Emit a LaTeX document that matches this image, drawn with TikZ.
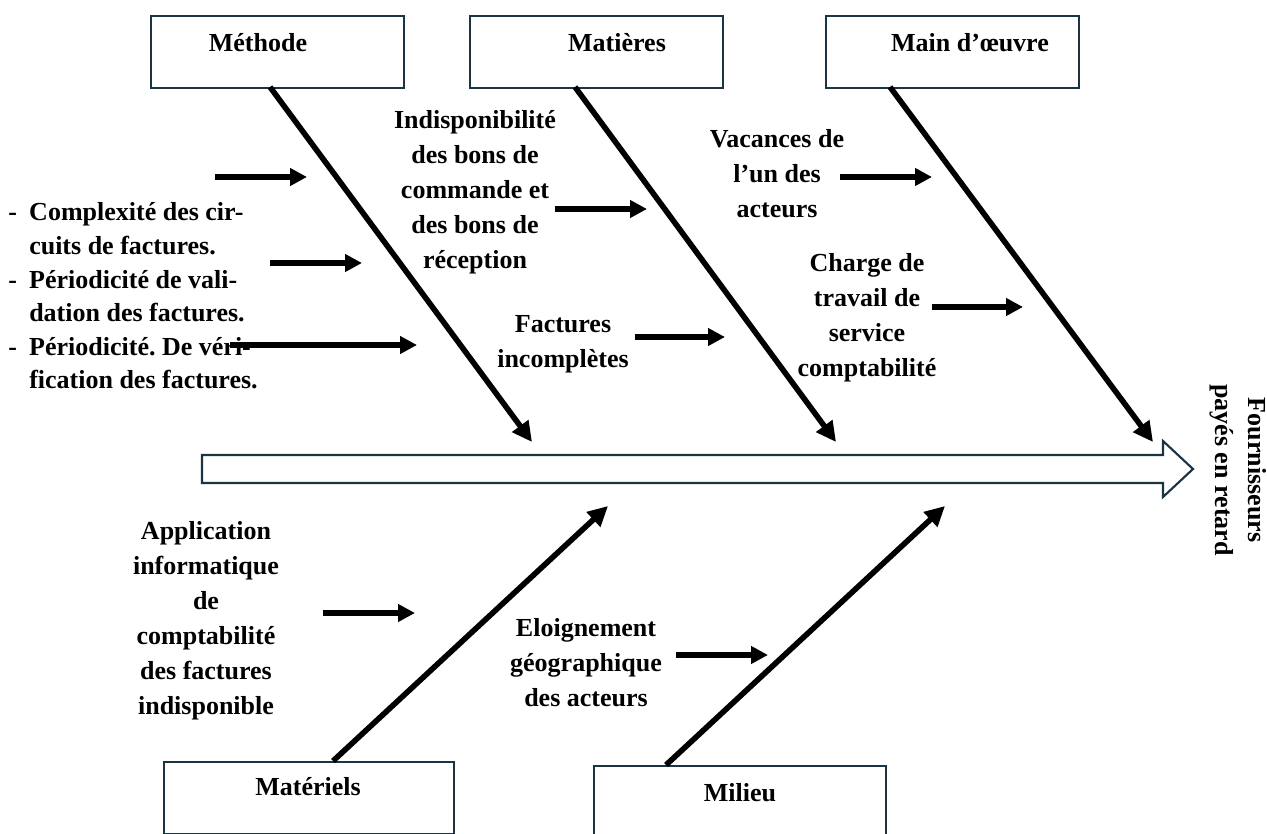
\documentclass[tikz,border=0pt]{standalone}
\usepackage{fontspec}
\setmainfont{Liberation Serif}
\usetikzlibrary{arrows.meta}
\definecolor{frame}{HTML}{1B3443}
\frenchspacing
\begin{document}
\begin{tikzpicture}[x=0.75pt,y=-0.75pt,
  every node/.style={font=\bfseries\fontsize{19.5}{26.25}\selectfont, inner sep=0pt},
  catbox/.style={draw=frame, line width=1.6pt, fill=white, minimum width=#1,
                 minimum height=54pt, anchor=north west},
  bone/.style={line width=4.2pt, -{Triangle[length=15pt,width=14.5pt]}},
  cause/.style={line width=3.9pt, -{Triangle[length=12.75pt,width=12.75pt]}},
  txt/.style={align=center}]
\useasboundingbox (0,0) rectangle (1267,834);

% category boxes
\node[catbox=189.75pt] (methode)  at (150,15) {};
\node[catbox=189.75pt] (matieres) at (469,15) {};
\node[catbox=189.75pt] (mainoeuvre) at (825,15) {};
\node[catbox=217.5pt]  (materiels) at (163,761) {};
\node[catbox=219pt, minimum height=68pt] (milieu) at (593,765) {};

\node (lmethode)  at (258,43) {Méthode};
\node (lmatieres) at (617,43) {Matières};
\node (lmain)     at (970,43) {Main d’œuvre};
\node (lmateriels) at (308,787) {Matériels};
\node (lmilieu)   at (740,793) {Milieu};

% main spine (hollow arrow)
\draw[frame, line width=1.6pt, fill=white]
  (202,455) -- (1163,455) -- (1163,441) -- (1193,469) -- (1163,497)
  -- (1163,483) -- (202,483) -- cycle;
\node[txt, rotate=-90, font=\bfseries\fontsize{19.5}{24.75}\selectfont] (effet) at (1238,470)
  {Fournisseurs\\payés en retard};

% bones
\coordinate (b1s) at (270,87);   \coordinate (b1e) at (532,442);
\coordinate (b2s) at (575,87);   \coordinate (b2e) at (836,442);
\coordinate (b3s) at (890,87);   \coordinate (b3e) at (1153,442);
\coordinate (b4s) at (333,761);  \coordinate (b4e) at (608,506);
\coordinate (b5s) at (666,765);  \coordinate (b5e) at (945,506);
\draw[bone] (b1s) -- (b1e);
\draw[bone] (b2s) -- (b2e);
\draw[bone] (b3s) -- (b3e);
\draw[bone] (b4s) -- (b4e);
\draw[bone] (b5s) -- (b5e);

% cause texts
\node[align=left, anchor=west, font=\bfseries\fontsize{19.5}{25.2}\selectfont] (listmethode) at (8,296)
  {\makebox[15.75pt][l]{-}Complexité des cir-\\
   \hspace*{15.75pt}cuits de factures.\\
   \makebox[15.75pt][l]{-}Périodicité de vali-\\
   \hspace*{15.75pt}dation des factures.\\
   \makebox[15.75pt][l]{-}Périodicité. De véri-\\
   \hspace*{15.75pt}fication des factures.};
\node[txt] (indispo) at (475,192)
  {Indisponibilité\\des bons de\\commande et\\des bons de\\réception};
\node[txt] (factures) at (563,344) {Factures\\incomplètes};
\node[txt] (vacances) at (777,174) {Vacances de\\l’un des\\acteurs};
\node[txt] (charge) at (867,318) {Charge de\\travail de\\service\\comptabilité};
\node[txt] (appli) at (206,621)
  {Application\\informatique\\de\\comptabilité\\des factures\\indisponible};
\node[txt] (eloign) at (586,663) {Eloignement\\géographique\\des acteurs};

% cause arrows
\coordinate (c1s) at (215,177);  \coordinate (c1e) at (307,177);
\coordinate (c2s) at (270,263);  \coordinate (c2e) at (362,263);
\coordinate (c3s) at (230,345);  \coordinate (c3e) at (417,345);
\coordinate (c4s) at (555,209);  \coordinate (c4e) at (647,209);
\coordinate (c5s) at (635,337);  \coordinate (c5e) at (725,337);
\coordinate (c6s) at (840,177);  \coordinate (c6e) at (932,177);
\coordinate (c7s) at (932,307);  \coordinate (c7e) at (1023,307);
\coordinate (c8s) at (323,613);  \coordinate (c8e) at (415,613);
\coordinate (c9s) at (676,655);  \coordinate (c9e) at (768,655);
\foreach \i in {1,...,9} \draw[cause] (c\i s) -- (c\i e);
\end{tikzpicture}
\end{document}
